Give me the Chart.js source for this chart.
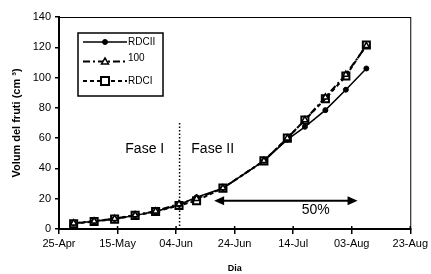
<!DOCTYPE html>
<html>
<head>
<meta charset="utf-8">
<script src="https://cdn.jsdelivr.net/npm/chart.js@4.4.1/dist/chart.umd.min.js"></script>
<style>
html,body{margin:0;padding:0;background:#fff;}
#wrap{width:431px;height:274px;position:relative;}
</style>
</head>
<body>
<div id="wrap"><canvas id="c" width="431" height="274"></canvas></div>
<script>
// days since 25-Apr
const days = [5, 12, 19, 26, 33, 41, 47, 56, 70, 78, 84, 91, 98, 105];
const rdcii = [3.8, 5.1, 6.6, 9.0, 11.5, 16.0, 21.0, 27.0, 45.0, 59.0, 67.5, 78.5, 92.0, 106.0];
const t100  = [3.8, 5.2, 6.8, 9.2, 11.8, 16.5, 20.0, 27.0, 45.0, 60.0, 72.0, 87.0, 102.0, 121.0];
const rdci  = [3.5, 5.0, 6.5, 9.0, 11.5, 15.5, 18.7, 27.0, 45.0, 60.0, 72.0, 86.0, 101.0, 121.5];
const tickLabels = ['25-Apr','15-May','04-Jun','24-Jun','14-Jul','03-Aug','23-Aug'];
const seriesNames = ['RDCII', '100', 'RDCI'];
const phaseDay = 41.2;
const arrowFrom = 53, arrowTo = 102, arrowVal = 18.7;

const FONT = '"Liberation Sans", Arial, sans-serif';
const pts = arr => days.map((d, i) => ({x: d, y: arr[i]}));

const decor = {
  id: 'decor',
  beforeDatasetsDraw(chart) {
    const {ctx, chartArea: a, scales: {x, y}} = chart;
    ctx.save();
    ctx.strokeStyle = '#000';
    ctx.lineWidth = 1.5;
    ctx.setLineDash([1.5, 2]);
    ctx.beginPath();
    const px = x.getPixelForValue(phaseDay);
    ctx.moveTo(px, y.getPixelForValue(70));
    ctx.lineTo(px, y.getPixelForValue(0));
    ctx.stroke();
    ctx.setLineDash([]);
    ctx.restore();
  },
  afterDraw(chart) {
    const {ctx, chartArea: a, scales: {x, y}} = chart;
    ctx.save();
    // frame
    ctx.strokeStyle = '#000';
    ctx.lineWidth = 1;
    ctx.strokeRect(a.left + 0.5, a.top + 0.5, a.right - a.left, a.bottom - a.top);
    ctx.lineWidth = 2;
    ctx.beginPath();
    ctx.moveTo(a.left, a.top); ctx.lineTo(a.left, a.bottom); ctx.lineTo(a.right, a.bottom);
    ctx.stroke();
    // x ticks crossing the axis (upper part)
    ctx.lineWidth = 1.5;
    for (let v = 20; v <= 120; v += 20) {
      const tx = x.getPixelForValue(v);
      ctx.beginPath(); ctx.moveTo(tx, a.bottom - 3); ctx.lineTo(tx, a.bottom); ctx.stroke();
    }
    // texts
    ctx.fillStyle = '#000';
    ctx.font = '14px ' + FONT;
    ctx.textBaseline = 'middle';
    ctx.textAlign = 'center';
    ctx.fillText('Fase I', x.getPixelForValue(29.3), y.getPixelForValue(52.5));
    ctx.textAlign = 'left';
    ctx.fillText('Fase II', x.getPixelForValue(45.2), y.getPixelForValue(52.5));
    ctx.textAlign = 'center';
    ctx.fillText('50%', x.getPixelForValue(87.7), y.getPixelForValue(12.5));
    // double arrow
    const x1 = x.getPixelForValue(arrowFrom), x2 = x.getPixelForValue(arrowTo), ay = y.getPixelForValue(arrowVal);
    ctx.lineWidth = 2;
    ctx.beginPath();
    ctx.moveTo(x1 + 8, ay); ctx.lineTo(x2 - 8, ay); ctx.stroke();
    ctx.beginPath();
    ctx.moveTo(x1, ay); ctx.lineTo(x1 + 10, ay - 4.5); ctx.lineTo(x1 + 10, ay + 4.5); ctx.closePath(); ctx.fill();
    ctx.beginPath();
    ctx.moveTo(x2, ay); ctx.lineTo(x2 - 10, ay - 4.5); ctx.lineTo(x2 - 10, ay + 4.5); ctx.closePath(); ctx.fill();
    // legend box
    const lx = a.left + 19, ly = a.top + 16, lw = 85, lh = 63;
    ctx.lineWidth = 1.5;
    ctx.strokeRect(lx, ly, lw, lh);
    ctx.font = '10px ' + FONT;
    ctx.textAlign = 'left';
    chart.data.datasets.forEach((ds, i) => {
      const ry = ly + 9 + i * 19.5;
      ctx.strokeStyle = '#000';
      ctx.lineWidth = ds.borderWidth;
      ctx.setLineDash(ds.borderDash || []);
      ctx.beginPath();
      ctx.moveTo(lx + 5, ry); ctx.lineTo(lx + 49, ry); ctx.stroke();
      ctx.setLineDash([]);
      const cx = lx + 27;
      ctx.fillStyle = ds.pointBackgroundColor;
      ctx.lineWidth = ds.pointBorderWidth;
      if (ds.pointStyle === 'circle') {
        ctx.beginPath(); ctx.arc(cx, ry, ds.pointRadius, 0, Math.PI * 2); ctx.fill(); ctx.stroke();
      } else if (ds.pointStyle === 'triangle') {
        const r = ds.pointRadius;
        ctx.beginPath(); ctx.moveTo(cx, ry - r); ctx.lineTo(cx + r, ry + r * 0.7); ctx.lineTo(cx - r, ry + r * 0.7); ctx.closePath(); ctx.fill(); ctx.stroke();
      } else {
        const r = ds.pointRadius * 0.8;
        ctx.fillStyle = '#fff';
        ctx.beginPath(); ctx.rect(cx - r, ry - r, 2 * r, 2 * r); ctx.fill(); ctx.stroke();
      }
      ctx.fillStyle = '#000';
      ctx.fillText(ds.label, lx + 50, ry - (i === 1 ? 3 : 0));
    });
    ctx.restore();
  }
};

new Chart(document.getElementById('c'), {
  type: 'line',
  data: {
    datasets: [
      {label: seriesNames[0], data: pts(rdcii), borderColor: '#000', borderWidth: 1.5,
       pointStyle: 'circle', pointRadius: 2.5, pointBackgroundColor: '#000', pointBorderColor: '#000', pointBorderWidth: 1, order: 3},
      {label: seriesNames[1], data: pts(t100), borderColor: '#000', borderWidth: 2, borderDash: [7, 3, 2, 3],
       pointStyle: 'triangle', pointRadius: 3.5, pointBackgroundColor: '#fff', pointBorderColor: '#000', pointBorderWidth: 1.5, order: 1},
      {label: seriesNames[2], data: pts(rdci), borderColor: '#000', borderWidth: 2, borderDash: [4, 3],
       pointStyle: 'rect', pointRadius: 5, pointBackgroundColor: 'rgba(255,255,255,0)', pointBorderColor: '#000', pointBorderWidth: 2, order: 2}
    ]
  },
  options: {
    responsive: false,
    animation: false,
    layout: {padding: {top: 17, right: 19, left: 0, bottom: 0}},
    plugins: {legend: {display: false}, tooltip: {enabled: false}},
    scales: {
      x: {
        type: 'linear', min: 0, max: 120,
        afterFit: s => { s.height = 45; },
        border: {display: true, color: '#000', width: 2},
        grid: {display: true, drawOnChartArea: false, color: '#000', tickLength: 5, lineWidth: 1.5},
        ticks: {stepSize: 20, color: '#000', font: {family: FONT, size: 11}, padding: 3, maxRotation: 0,
                callback: v => tickLabels[v / 20]},
        title: {display: true, text: 'Dia', color: '#000', font: {family: FONT, size: 9, weight: 'bold'}, padding: {top: 14, bottom: 0}}
      },
      y: {
        min: 0, max: 140,
        afterFit: s => { s.width = 59; },
        border: {display: true, color: '#000', width: 2},
        grid: {display: true, drawOnChartArea: false, color: '#000', tickLength: 4, lineWidth: 1.5},
        ticks: {stepSize: 20, color: '#000', font: {family: FONT, size: 11}, padding: 4},
        title: {display: true, text: 'Volum del fruti (cm ³)', color: '#000', font: {family: FONT, size: 11, weight: 'bold'}, padding: {top: 10, bottom: 0}}
      }
    }
  },
  plugins: [decor]
});
</script>
</body>
</html>
